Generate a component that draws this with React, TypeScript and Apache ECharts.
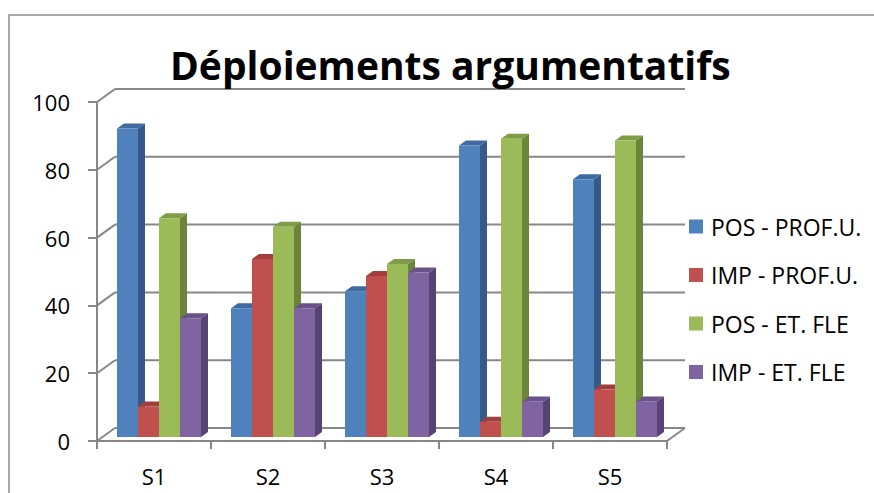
import React, { useEffect, useRef } from "react";
import * as echarts from "echarts";

// Chart data
const categories = ["S1", "S2", "S3", "S4", "S5"];
const seriesNames = ["POS - PROF.U.", "IMP - PROF.U.", "POS - ET. FLE", "IMP - ET. FLE"];
const posProf = [91, 38, 43, 86, 76];
const impProf = [9, 52.5, 47.5, 4.5, 14];
const posFle = [64.5, 62, 51, 88, 87.5];
const impFle = [35, 38, 48.5, 10.5, 10.5];
const valueTicks = [0, 20, 40, 60, 80, 100];

// Face colours per series: front, side, top
const palette = [
  { front: "#4F81BD", side: "#36598A", top: "#3F6BA3" },
  { front: "#C0504D", side: "#8C3835", top: "#A03F3C" },
  { front: "#9BBB59", side: "#6C853A", top: "#7F9C46" },
  { front: "#8064A2", side: "#574373", top: "#69518A" },
];

// Pseudo-3D projection offsets (pixels)
const WALL_DX = 18;
const WALL_DY = -13;
const BAR_DX = 5;
const BAR_DY = -4;
const DEPTH_DX = 7;
const DEPTH_DY = -5;
const BAR_RATIO = 21 / 114;

const FONT = "'Open Sans', sans-serif";
const LINE = "#878787";

function wallRenderer(params: any, api: any) {
  const v = api.value(1);
  const cs = params.coordSys;
  const y = api.coord([0, v])[1];
  const xl = cs.x;
  const xr = cs.x + cs.width;
  const style = { stroke: LINE, lineWidth: 2 };
  const children: any[] = [
    { type: "line", shape: { x1: xl, y1: y, x2: xl + WALL_DX, y2: y + WALL_DY }, style },
    { type: "line", shape: { x1: xl + WALL_DX, y1: y + WALL_DY, x2: xr + WALL_DX, y2: y + WALL_DY }, style },
  ];
  if (v === 0) {
    children.push({ type: "line", shape: { x1: xr, y1: y, x2: xr + WALL_DX, y2: y + WALL_DY }, style });
  }
  return { type: "group", children };
}

function barRenderer(slot: number) {
  const c = palette[slot];
  return (params: any, api: any) => {
    const idx = api.value(0);
    const val = api.value(1);
    const base = api.coord([idx, 0]);
    const top = api.coord([idx, val]);
    const band = api.size([1, 0])[0];
    const w = band * BAR_RATIO;
    const x = base[0] - 2 * w + slot * w + BAR_DX;
    const y0 = base[1] + BAR_DY;
    const y1 = top[1] + BAR_DY;
    return {
      type: "group",
      children: [
        {
          type: "polygon",
          shape: {
            points: [
              [x + w, y1],
              [x + w + DEPTH_DX, y1 + DEPTH_DY],
              [x + w + DEPTH_DX, y0 + DEPTH_DY],
              [x + w, y0],
            ],
          },
          style: { fill: c.side },
        },
        {
          type: "polygon",
          shape: {
            points: [
              [x, y1],
              [x + w, y1],
              [x + w + DEPTH_DX, y1 + DEPTH_DY],
              [x + DEPTH_DX, y1 + DEPTH_DY],
            ],
          },
          style: { fill: c.top },
        },
        {
          type: "rect",
          shape: { x, y: y1, width: w, height: y0 - y1 },
          style: { fill: c.front },
        },
      ],
    };
  };
}

export default function App() {
  const ref = useRef<HTMLDivElement>(null);

  useEffect(() => {
    if (!ref.current) return;
    const chart = echarts.init(ref.current, undefined, { renderer: "svg" });
    const seriesValues = [posProf, impProf, posFle, impFle];

    chart.setOption({
      animation: false,
      backgroundColor: "#ffffff",
      title: {
        text: "Déploiements argumentatifs",
        left: 170,
        top: 45,
        padding: 0,
        textStyle: {
          fontFamily: FONT,
          fontWeight: "bold",
          fontSize: 39,
          lineHeight: 39,
          color: "#000000",
        },
      },
      legend: {
        data: seriesNames,
        orient: "vertical",
        left: 689,
        top: 215,
        padding: 0,
        icon: "rect",
        itemWidth: 14,
        itemHeight: 14,
        itemGap: 25.5,
        textStyle: {
          fontFamily: FONT,
          fontSize: 23,
          lineHeight: 23,
          color: "#000000",
          padding: [0, 0, 0, 3],
        },
      },
      graphic: [
        {
          type: "rect",
          shape: { x: 9, y: 15, width: 900, height: 520 },
          style: { fill: "none", stroke: "#8C8C8C", lineWidth: 1.5 },
          silent: true,
          z: -10,
        },
      ],
      grid: {
        left: 97,
        top: 102,
        width: 570,
        height: 339,
        outerBoundsMode: "none",
      },
      xAxis: {
        type: "category",
        data: categories,
        boundaryGap: true,
        axisLine: { show: true, lineStyle: { color: LINE, width: 2 } },
        axisTick: { show: true, length: 8, lineStyle: { color: LINE, width: 2 } },
        axisLabel: { fontFamily: FONT, fontSize: 22, color: "#000000", margin: 24 },
        splitLine: { show: false },
      },
      yAxis: {
        type: "value",
        min: 0,
        max: 100,
        interval: 20,
        axisLine: { show: true, lineStyle: { color: LINE, width: 2 } },
        axisTick: { show: true, length: 9, lineStyle: { color: LINE, width: 2 } },
        axisLabel: { fontFamily: FONT, fontSize: 22, color: "#000000", margin: 27 },
        splitLine: { show: false },
      },
      series: [
        {
          type: "custom",
          name: "walls",
          renderItem: wallRenderer,
          data: valueTicks.map((v) => [0, v]),
          silent: true,
          z: 1,
        },
        ...seriesNames.map((name, i) => ({
          type: "custom",
          name,
          renderItem: barRenderer(i),
          itemStyle: { color: palette[i].front },
          encode: { x: 0, y: 1 },
          data: seriesValues[i].map((v, k) => [k, v]),
          z: 2,
        })),
      ],
    });

    return () => chart.dispose();
  }, []);

  return (
    <div
      ref={ref}
      style={{ position: "fixed", left: 0, top: 0, width: 874, height: 493 }}
    />
  );
}
